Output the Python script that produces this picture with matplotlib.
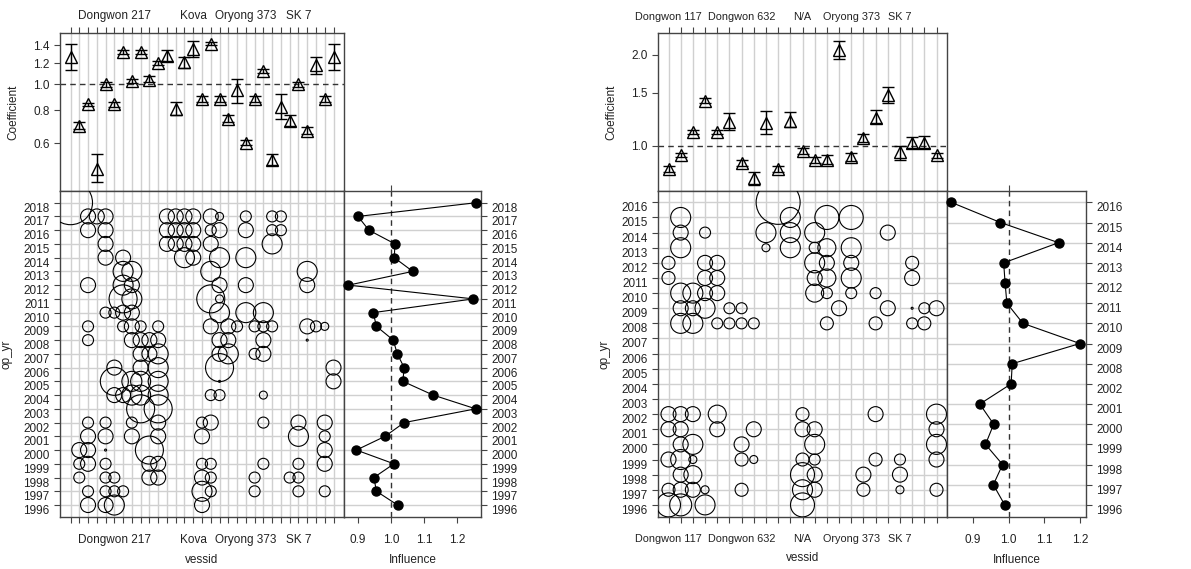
import matplotlib

matplotlib.use("Agg")
import matplotlib.pyplot as plt
import numpy as np

plt.rcParams["font.family"] = ["Liberation Sans", "DejaVu Sans"]

W, H = 1191, 569
GRID = "#d0d0d0"
FRAME = "#444444"
TXT = "#222222"

# ---------------- left panel data ----------------
L_COEF = [1.27, 0.70, 0.84, 0.48, 1.00, 0.84, 1.32, 1.03, 1.32, 1.04, 1.20, 1.28, 0.81, 1.21, 1.36, 0.88,
          1.42, 0.88, 0.74, 0.95, 0.60, 0.88, 1.12, 0.52, 0.82, 0.73, 1.00, 0.67, 1.18, 0.88, 1.27]
L_LO = [1.13, 0.68, 0.83, 0.43, 0.98, 0.82, 1.30, 1.01, 1.30, 1.02, 1.18, 1.22, 0.77, 1.15, 1.26, 0.86,
        1.40, 0.86, 0.72, 0.85, 0.59, 0.86, 1.10, 0.50, 0.74, 0.70, 0.98, 0.65, 1.09, 0.86, 1.13]
L_HI = [1.42, 0.72, 0.85, 0.55, 1.02, 0.86, 1.34, 1.05, 1.34, 1.07, 1.22, 1.34, 0.86, 1.27, 1.45, 0.90,
        1.44, 0.90, 0.77, 1.05, 0.62, 0.90, 1.14, 0.55, 0.92, 0.77, 1.02, 0.69, 1.27, 0.90, 1.42]
L_VLABELS = {6: "Dongwon 217", 15: "Kova", 21: "Oryong 373", 27: "SK 7"}
L_YEARS = list(range(1996, 2019))
L_INFL = [1.02, 0.956, 0.948, 1.009, 0.895, 0.982, 1.04, 1.257, 1.128, 1.036, 1.04, 1.019, 1.007,
          0.956, 0.946, 1.25, 0.871, 1.066, 1.01, 1.012, 0.933, 0.90, 1.259]
# year -> [(vessel, size code)]
L_BUBBLES = {
    2018: [(1, 6)],
    2017: [(3, 3), (4, 3), (5, 3), (12, 3), (13, 3), (14, 3), (15, 3), (17, 3), (18, 1), (21, 2), (24, 2), (25, 2)],
    2016: [(3, 3), (5, 3), (12, 3), (13, 3), (14, 3), (15, 3), (17, 2), (18, 3), (21, 3), (24, 2), (25, 2)],
    2015: [(5, 3), (12, 3), (13, 3), (14, 3), (15, 3), (17, 3), (24, 4)],
    2014: [(5, 3), (7, 3), (14, 4), (15, 3), (18, 4), (21, 4)],
    2013: [(7, 4), (8, 4), (17, 4), (28, 4)],
    2012: [(3, 3), (7, 4), (8, 3), (18, 3), (21, 3), (28, 3)],
    2011: [(7, 5), (8, 4), (17, 5), (18, 1)],
    2010: [(5, 2), (6, 2), (7, 3), (8, 3), (18, 4), (21, 4), (23, 4)],
    2009: [(3, 2), (7, 2), (8, 3), (9, 2), (11, 2), (17, 3), (19, 3), (20, 2), (22, 2), (23, 2), (24, 2),
           (28, 3), (29, 2), (30, 1.5)],
    2008: [(3, 2), (8, 3), (9, 3), (10, 3), (11, 3), (18, 3), (19, 3), (23, 3), (28, 0.5)],
    2007: [(9, 3), (10, 3), (11, 4), (18, 3), (19, 4), (22, 2), (23, 3)],
    2006: [(6, 3), (9, 3), (11, 4), (18, 5), (31, 3)],
    2005: [(6, 5), (8, 4), (9, 4), (11, 4), (18, 0.5), (31, 3)],
    2004: [(6, 3), (7, 3), (8, 4), (9, 4), (11, 4), (17, 2), (18, 2), (23, 1.5)],
    2003: [(9, 5), (11, 5)],
    2002: [(3, 2), (5, 2), (8, 2), (11, 3), (16, 2), (17, 3), (23, 2), (27, 3), (30, 3)],
    2001: [(3, 3), (5, 3), (8, 3), (11, 3), (16, 3), (27, 4), (30, 2)],
    2000: [(2, 3), (3, 3), (5, 0.5), (10, 5), (30, 3)],
    1999: [(2, 2), (3, 3), (5, 2), (10, 3), (11, 3), (16, 2), (17, 2), (23, 2), (27, 2), (30, 3)],
    1998: [(2, 2), (5, 2), (6, 2), (10, 3), (11, 3), (16, 3), (17, 2), (22, 2), (26, 2), (27, 2)],
    1997: [(3, 2), (5, 2), (6, 2), (7, 2), (16, 4), (17, 2), (22, 2), (27, 2), (30, 2)],
    1996: [(3, 3), (5, 3), (6, 4), (16, 3)],
}

# ---------------- right panel data ----------------
R_COEF = [0.84, 0.935, 1.11, 1.41, 1.11, 1.20, 0.88, 0.78, 1.19, 0.84, 1.21, 0.96, 0.90, 0.90, 2.08, 0.92,
          1.06, 1.24, 1.47, 0.955, 1.02, 1.02, 0.93]
R_LO = [0.82, 0.92, 1.09, 1.39, 1.09, 1.13, 0.86, 0.74, 1.09, 0.82, 1.15, 0.94, 0.88, 0.87, 1.93, 0.89,
        1.03, 1.19, 1.39, 0.90, 0.98, 0.98, 0.91]
R_HI = [0.86, 0.95, 1.13, 1.44, 1.13, 1.28, 0.90, 0.82, 1.30, 0.86, 1.29, 0.98, 0.92, 0.93, 2.22, 0.95,
        1.09, 1.31, 1.56, 1.00, 1.07, 1.08, 0.95]
R_VLABELS = {1: "Dongwon 117", 7: "Dongwon 632", 12: "N/A", 16: "Oryong 373", 20: "SK 7"}
R_YEARS = list(range(1996, 2017))
R_INFL_YEARS = [1996, 1997, 1998, 1999, 2000, 2001, 2002, 2008, 2009, 2010, 2011, 2012, 2013, 2014, 2015, 2016]
R_INFL = [0.989, 0.957, 0.983, 0.935, 0.958, 0.919, 1.007, 1.01, 1.20, 1.04, 0.995, 0.99, 0.986, 1.14,
          0.977, 0.839]
R_BUBBLES = {
    2016: [(10, 6)],
    2015: [(2, 4), (11, 4), (14, 4.5), (16, 4.5)],
    2014: [(2, 3), (4, 2), (9, 4), (11, 4), (13, 4), (19, 3)],
    2013: [(2, 4), (9, 1), (11, 4), (13, 2), (14, 3.5), (16, 4)],
    2012: [(1, 2.5), (4, 3), (5, 3), (13, 4), (14, 3), (16, 3), (21, 2.5)],
    2011: [(1, 2.5), (4, 3), (5, 3), (13, 3), (14, 3.5), (16, 4), (21, 3)],
    2010: [(2, 4), (3, 4), (4, 3), (5, 3), (13, 3.5), (14, 2), (16, 2), (18, 2)],
    2009: [(2, 3), (3, 3), (4, 4), (6, 2), (7, 2), (15, 3), (19, 3), (21, 0.5), (22, 2), (23, 3)],
    2008: [(2, 4), (3, 4), (5, 2), (6, 2), (7, 2), (8, 2), (14, 2.5), (18, 2.5), (21, 2), (22, 2.5)],
    2002: [(1, 3), (2, 3), (3, 3), (5, 3.5), (12, 2.5), (18, 3), (23, 4)],
    2001: [(1, 3), (2, 3), (5, 3), (8, 3), (12, 3), (13, 3), (23, 3)],
    2000: [(2, 3), (3, 4), (7, 3), (13, 4), (23, 4)],
    1999: [(1, 3), (2, 4), (3, 1), (7, 2.5), (8, 1.5), (12, 2.5), (13, 2), (18, 2.5), (20, 2), (23, 3)],
    1998: [(2, 3), (3, 3.5), (12, 4.5), (13, 3), (17, 3), (20, 3)],
    1997: [(1, 2.5), (2, 3), (3, 3), (4, 1), (7, 2.5), (12, 4), (13, 3), (17, 2.5), (20, 1.5), (23, 2.5)],
    1996: [(1, 4.5), (2, 4.2), (4, 4), (12, 4.5)],
}

# size code -> radius in pixels
R_PX = {0.5: 1.0, 1: 4.0, 1.5: 4.0, 2: 5.5, 2.5: 6.5, 3: 7.5, 3.5: 9.0, 4: 10.0, 4.2: 11.0, 4.5: 12.0,
        5: 14.0, 6: 22.0}

fig = plt.figure(figsize=(W / 100, H / 100), dpi=100)


def add_ax(x0, x1, y0, y1):
    return fig.add_axes([x0 / W, 1 - y1 / H, (x1 - x0) / W, (y1 - y0) / H])


def style_frame(ax):
    for s in ax.spines.values():
        s.set_color(FRAME)
        s.set_linewidth(1.0)
    ax.tick_params(colors=FRAME, labelcolor=TXT, labelsize=8.5, length=4, width=0.8)


def panel(x0, xmid, x1, coef, lo, hi, coef_ylim, coef_ticks, vlabels, years, bubbles, ylim,
          infl_years, infl, infl_xlim, infl_tick_years, lbl_size):
    n = len(coef)
    idx = np.arange(1, n + 1)
    pitch = (xmid - x0 - 21) / (n - 1)
    xlim = (1 - 10.5 / pitch, n + 10.5 / pitch)
    vnames = [vlabels.get(i, "") for i in idx]

    # coefficient panel
    ax = add_ax(x0, xmid, 33, 191)
    style_frame(ax)
    ax.set_yscale("log")
    for i in idx:
        ax.axvline(i, color=GRID, lw=1.0, zorder=0)
    ax.axhline(1.0, color="#333333", lw=1.0, ls=(0, (4, 3)))
    err = [np.array(coef) - np.array(lo), np.array(hi) - np.array(coef)]
    ax.errorbar(idx, coef, yerr=err, fmt="none", ecolor="black", elinewidth=1.0, capsize=4, capthick=1.0)
    ax.plot(idx, coef, ls="none", marker="^", ms=8, mfc="none", mec="black", mew=1.0)
    ax.set_xlim(*xlim)
    ax.set_ylim(*coef_ylim)
    ax.set_yticks(coef_ticks)
    ax.set_yticklabels([f"{t:.1f}" for t in coef_ticks])
    ax.yaxis.set_minor_locator(matplotlib.ticker.NullLocator())
    ax.set_xticks(idx)
    ax.set_xticklabels(vnames, fontsize=lbl_size)
    ax.tick_params(axis="x", bottom=False, labelbottom=False, top=True, labeltop=True, pad=4)
    ax.set_ylabel("Coefficient", color=TXT, fontsize=8.5, labelpad=10)

    # bubble panel
    bx = add_ax(x0, xmid, 191, 517)
    style_frame(bx)
    for i in idx:
        bx.axvline(i, color=GRID, lw=1.0, zorder=0)
    for y in years:
        bx.axhline(y, color=GRID, lw=1.0, zorder=0)
    for yr, items in bubbles.items():
        for v, s in items:
            r = R_PX[s] * 0.72
            bx.scatter([v], [yr], s=(2 * r) ** 2, facecolors="none", edgecolors="black", linewidths=0.8,
                       zorder=3, clip_on=True)
    bx.set_xlim(*xlim)
    bx.set_ylim(*ylim)
    bx.set_yticks(years)
    bx.set_yticklabels([str(y) for y in years], va="top")
    bx.set_xticks(idx)
    bx.set_xticklabels(vnames, fontsize=lbl_size)
    bx.tick_params(axis="x", pad=8)
    bx.set_ylabel("op_yr", color=TXT, fontsize=8.5, labelpad=8)
    bx.set_xlabel("vessid", color=TXT, fontsize=8.5, labelpad=6)

    # influence panel
    ix = add_ax(xmid, x1, 191, 517)
    style_frame(ix)
    pos = np.arange(len(infl_tick_years))
    ymap = {y: p for y, p in zip(infl_tick_years, pos)}
    for p in pos:
        ix.axhline(p, color=GRID, lw=1.0, zorder=0)
    ix.axvline(1.0, color="#333333", lw=1.0, ls=(0, (4, 3)))
    ys = [ymap[y] for y in infl_years]
    ix.plot(infl, ys, color="black", lw=0.8, marker="o", ms=6.5, mfc="black", zorder=3, clip_on=False)
    ix.set_xlim(*infl_xlim)
    span = len(infl_tick_years) - 1
    frac_lo = (years[0] - ylim[0]) / (years[-1] - years[0])
    frac_hi = (ylim[1] - years[-1]) / (years[-1] - years[0])
    ix.set_ylim(-frac_lo * span, span + frac_hi * span)
    ix.set_yticks(pos)
    ix.set_yticklabels([str(y) for y in infl_tick_years], va="top")
    ix.tick_params(axis="y", left=False, labelleft=False, right=True, labelright=True)
    ix.set_xticks([0.9, 1.0, 1.1, 1.2])
    ix.set_xticklabels(["0.9", "1.0", "1.1", "1.2"])
    ix.tick_params(axis="x", pad=8)
    ix.set_xlabel("Influence", color=TXT, fontsize=8.5, labelpad=6)
    sec = ix.secondary_xaxis("top")
    sec.set_xticks([1.0])
    sec.set_xticklabels([""])
    sec.tick_params(colors=FRAME, length=4)
    sec.spines["top"].set_visible(False)


panel(60, 344, 481, L_COEF, L_LO, L_HI, (0.398, 1.556), [0.6, 0.8, 1.0, 1.2, 1.4], L_VLABELS,
      L_YEARS, L_BUBBLES, (1995.13, 2018.85), L_YEARS, L_INFL, (0.8575, 1.273), L_YEARS, 8.5)

panel(658, 947, 1086, R_COEF, R_LO, R_HI, (0.709, 2.36), [1.0, 1.5, 2.0], R_VLABELS,
      R_YEARS, R_BUBBLES, (1995.2, 2016.75), R_INFL_YEARS, R_INFL, (0.827, 1.217), R_INFL_YEARS, 7.8)

fig.savefig("out.png", dpi=100, facecolor="white")
